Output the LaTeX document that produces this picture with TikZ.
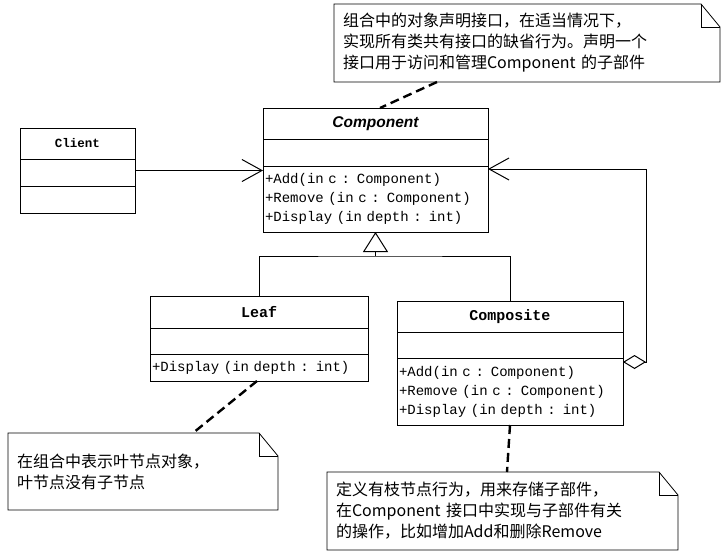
\documentclass[tikz,border=0pt]{standalone}
\usepackage{fontspec}
\usepackage{tikz}
\usetikzlibrary{positioning,arrows.meta}
\setmainfont{Liberation Mono}
\newfontfamily\cjk{Noto Sans CJK SC}
\newfontfamily\clsans{Liberation Sans}
% note outline with folded corner
\newcommand{\foldnote}[1]{%
  \draw[notebox] (#1.north west) -- ([xshift=-19pt]#1.north east)
    -- ([yshift=-23pt]#1.north east) -- (#1.south east) -- (#1.south west) -- cycle;
  \draw[notebox] ([xshift=-19pt]#1.north east) |- ([yshift=-23pt]#1.north east);}

\begin{document}
\begin{tikzpicture}[x=1pt, y=-1pt, >=Latex,
    clshead/.style={draw, line width=1pt, minimum height=31pt, inner sep=0pt, outer sep=0pt,
                    font=\fontsize{15}{18}\selectfont\bfseries},
    clsattr/.style={draw, line width=1pt, minimum height=27pt, inner sep=0pt, outer sep=0pt},
    clsops/.style={draw, line width=1pt, inner xsep=2pt, inner ysep=0pt, outer sep=0pt,
                   align=left, font=\fontsize{14}{19}\selectfont},
    note/.style={inner xsep=9pt, inner ysep=0pt, outer sep=0pt, align=left,
                 font=\fontsize{16}{21}\selectfont\cjk},
    notebox/.style={line width=0.8pt},
    assoc/.style={line width=0.9pt, -{Straight Barb[length=20pt,width=22pt,line width=1pt]}},
    gen/.style={line width=0.9pt, -{Triangle[open,length=20pt,width=25pt,line width=1pt]}},
    aggr/.style={line width=0.9pt, {Diamond[open,length=23pt,width=14pt,line width=1pt]}-{Straight Barb[length=20pt,width=22pt,line width=1pt]}},
    link/.style={line width=2.4pt, dash pattern=on 9pt off 5pt}]
  \useasboundingbox (0,0) rectangle (728,557);

  % Component
  \node[clshead, anchor=north west, minimum width=225pt,
        font=\clsans\fontsize{15.5}{18}\selectfont\bfseries\itshape] (comp-head) at (263,108) {Component};
  \node[clsattr, minimum width=225pt, below=0pt of comp-head] (comp-attr) {};
  \node[clsops, text width=221pt, minimum height=66pt, below=0pt of comp-attr] (comp-ops)
    {+Add(in c : Component)\\ +Remove (in c : Component)\\ +Display (in depth : int)};

  % Client
  \node[clshead, anchor=north west, minimum width=115pt,
        font=\fontsize{12.5}{14}\selectfont\bfseries] (client-head) at (20,128) {Client};
  \node[clsattr, minimum width=115pt, below=0pt of client-head] (client-attr) {};
  \node[clsattr, minimum width=115pt, below=0pt of client-attr] (client-ops) {};

  % Leaf
  \node[clshead, anchor=north west, minimum width=218pt, minimum height=32pt] (leaf-head) at (150,296) {Leaf};
  \node[clsattr, minimum width=218pt, minimum height=26pt, below=0pt of leaf-head] (leaf-attr) {};
  \node[clsops, text width=214pt, minimum height=27pt, below=0pt of leaf-attr] (leaf-ops)
    {+Display (in depth : int)};

  % Composite
  \node[clshead, anchor=north west, minimum width=226pt] (cmp-head) at (397,301) {Composite};
  \node[clsattr, minimum width=226pt, minimum height=26pt, below=0pt of cmp-head] (cmp-attr) {};
  \node[clsops, text width=222pt, minimum height=67pt, below=0pt of cmp-attr] (cmp-ops)
    {+Add(in c : Component)\\ +Remove (in c : Component)\\ +Display (in depth : int)};

  % notes
  \node[note, anchor=north west, text width=368pt, minimum height=78pt] (note1) at (334,4)
    {组合中的对象声明接口，在适当情况下，\\ 实现所有类共有接口的缺省行为。声明一个\\ 接口用于访问和管理Component 的子部件};
  \node[note, anchor=north west, text width=252pt, minimum height=77pt] (note2) at (8,433)
    {在组合中表示叶节点对象，\\ 叶节点没有子节点};
  \node[note, anchor=north west, text width=333pt, minimum height=78pt] (note3) at (327,472)
    {定义有枝节点行为，用来存储子部件，\\ 在Component 接口中实现与子部件有关\\ 的操作，比如增加Add和删除Remove};
  \foldnote{note1}
  \foldnote{note2}
  \foldnote{note3}

  % relations
  \draw[assoc] ([yshift=2pt]client-attr.east) -- ([yshift=2pt]client-attr.east -| comp-ops.west);
  \coordinate (joint) at (375.5,256);
  \draw[line width=0.9pt] (leaf-head.north) |- (joint) -| (cmp-head.north);
  \draw[gen] (joint) -- (comp-ops.south);
  \draw[aggr] ([yshift=-4pt]cmp-ops.north east) -- ++(23,0) |- ([yshift=-3pt]comp-ops.north east);

  \draw[link] ([xshift=103pt]note1.south west) -- ([xshift=117pt]comp-head.north west);
  \draw[link] ([xshift=-2pt]leaf-ops.south) -- ([xshift=185pt]note2.north west);
  \draw[link] (cmp-ops.south) -- ([xshift=180pt]note3.north west);
\end{tikzpicture}
\end{document}
